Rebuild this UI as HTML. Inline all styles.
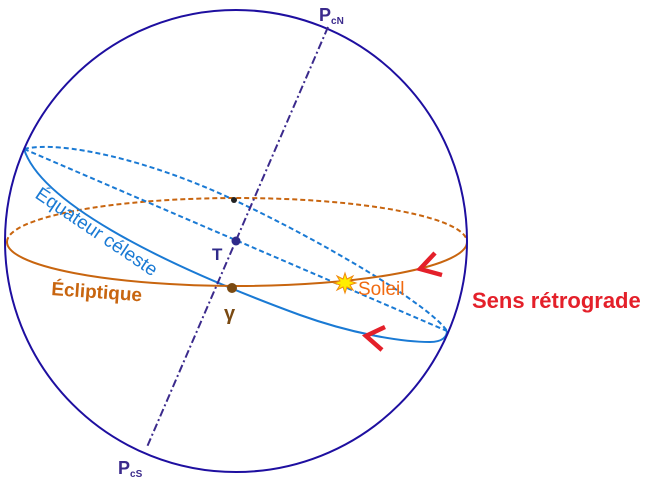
<!DOCTYPE html>
<html><head><meta charset="utf-8"><style>
html,body{margin:0;padding:0;background:#fff;}
svg{display:block;}
text{font-family:"Liberation Sans",Arial,sans-serif;}
</style></head><body>
<svg width="650" height="480" viewBox="0 0 650 480" xmlns="http://www.w3.org/2000/svg">
<path d="M7 242 A230 44 0 0 1 467 242" fill="none" stroke="#c8650f" stroke-width="2" stroke-dasharray="5,3"/>
<path d="M24 149 C60 140 150 160 234 200 C320 240 430 305 447 331" fill="none" stroke="#1a7ad4" stroke-width="2" stroke-dasharray="5,3"/>
<line x1="24" y1="149" x2="447" y2="331" stroke="#1a7ad4" stroke-width="2" stroke-dasharray="5,3"/>
<path d="M24 149 C40 200 150 260 300 315 C350 333 400 342 430 342 C442 342 447 337 447 331" fill="none" stroke="#1a7ad4" stroke-width="2"/>
<path d="M467 242 A230 44 0 0 1 7 242" fill="none" stroke="#c8650f" stroke-width="2"/>
<circle cx="236" cy="241" r="231" fill="none" stroke="#1e0fa0" stroke-width="2"/>
<line x1="328" y1="27" x2="147" y2="447" stroke="#3b2a8c" stroke-width="2" stroke-dasharray="8,3,2,3"/>
<circle cx="234" cy="200" r="3" fill="#222"/>
<circle cx="236" cy="241" r="4.5" fill="#2f2a8a"/>
<circle cx="232" cy="288" r="5" fill="#7a4a12"/>
<polygon points="345,273 347,279 353,276 350,281 356,283 350,285 353,290 347,287 345,293 343,287 337,290 340,285 334,283 340,281 337,276 343,279" fill="#ffee00" stroke="#f08a10" stroke-width="1"/>
<polyline points="435,253 420,269 442,275" fill="none" stroke="#e4202a" stroke-width="4.5"/>
<polyline points="385,327 366,336 382,350" fill="none" stroke="#e4202a" stroke-width="4.5"/>
<text x="319" y="21" font-size="18" font-weight="bold" fill="#3b2a8c">P<tspan font-size="10" dy="3">cN</tspan></text>
<text x="118" y="474" font-size="18" font-weight="bold" fill="#3b2a8c">P<tspan font-size="10" dy="3">cS</tspan></text>
<text x="212" y="260" font-size="17" font-weight="bold" fill="#2f2a8a">T</text>
<text x="224" y="320" font-size="20" font-weight="bold" fill="#7a4a12">γ</text>
<text x="0" y="0" font-size="19" fill="#1a7ad4" transform="translate(34,197) rotate(34)">Équateur céleste</text>
<text x="0" y="0" font-size="19" font-weight="bold" fill="#c8650f" transform="translate(51,295) rotate(4)">Écliptique</text>
<text x="358" y="295" font-size="19" fill="#f06a10">Soleil</text>
<text x="472" y="308" font-size="22" font-weight="bold" fill="#e4202a">Sens rétrograde</text>
</svg>
</body></html>
